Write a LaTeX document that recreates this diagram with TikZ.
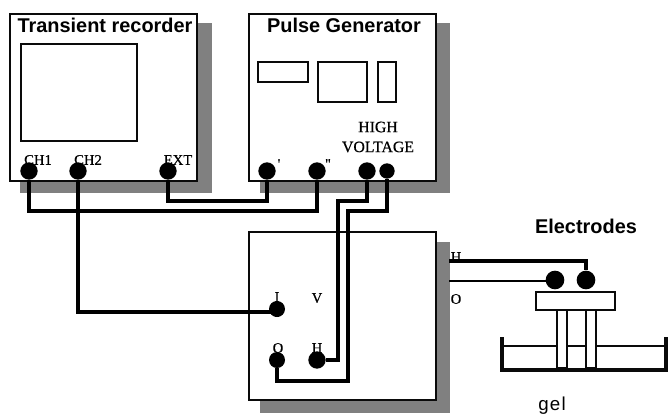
\documentclass[tikz,border=0pt]{standalone}
\usepackage{fontspec}
\setmainfont{Liberation Serif}
\newfontfamily\headfont{Liberation Sans}
\newfontfamily\tagfont[FakeBold=0.5]{Liberation Serif}
\usetikzlibrary{positioning}
\definecolor{shadowGray}{HTML}{808080}
\definecolor{ink}{HTML}{0A0A0A}
\begin{document}
\begin{tikzpicture}[x=0.03cm,y=-0.03cm,
  panel/.style={draw=ink,fill=white,line width=1.2pt,inner sep=0pt,minimum width=5.61cm,minimum height=5.01cm},
  backing/.style={fill=shadowGray,inner sep=0pt},
  window/.style={draw=ink,fill=white,line width=1pt,inner sep=0pt},
  jack/.style={circle,fill=black,inner sep=0pt,minimum size=0.52cm},
  wire/.style={line width=3.6pt,line join=miter},
  thinwire/.style={line width=2.5pt},
  heading/.style={font=\headfont\bfseries\fontsize{17}{19}\selectfont,inner sep=0pt},
  tag/.style={font=\tagfont\fontsize{12.5}{14}\selectfont,inner sep=0pt},
  hvtag/.style={font=\tagfont\fontsize{13.5}{17}\selectfont,align=center,inner sep=0pt}]
\useasboundingbox (0,0) rectangle (669,414);
% transient recorder
\node[backing,minimum width=5.76cm,minimum height=5.1cm] (recShadow) at (116,108) {};
\node[panel] (recorder) at (103.5,97.5) {};
\node[window,minimum width=3.48cm,minimum height=2.91cm] (screen) at (79,92.5) {};
\node[heading] (recTitle) at (105,25) {Transient recorder};
\node[tag] (ch1Tag) at (38,160) {CH1};
\node[tag] (ch2Tag) at (88,160) {CH2};
\node[tag] (extTag) at (178,160) {EXT};
\node[jack] (ch1) at (29,171) {};
\node[jack] (ch2) at (78,171) {};
\node[jack] (ext) at (168,171) {};
% pulse generator
\node[backing,minimum width=5.7cm,minimum height=5.1cm] (genShadow) at (355,108) {};
\node[panel] (generator) at (342.5,97.5) {};
\node[window,minimum width=1.5cm,minimum height=0.6cm] (genWide) at (283,72) {};
\node[window,minimum width=1.47cm,minimum height=1.2cm] (genSquare) at (342.5,82) {};
\node[window,minimum width=0.54cm,minimum height=1.2cm] (genTall) at (387,82) {};
\node[heading] (genTitle) at (344,25) {Pulse Generator};
\node[hvtag] (hvTag) at (378,137) {HIGH\\VOLTAGE};
\node[tag] (out1Tag) at (279,164) {'};
\node[tag] (out2Tag) at (328,164) {''};
\node[jack] (out1) at (267,171) {};
\node[jack] (out2) at (317,171) {};
\node[jack] (hv1) at (367,171) {};
\node[jack,minimum size=0.46cm] (hv2) at (387,171) {};
% meter
\node[backing,minimum width=5.7cm,minimum height=5.13cm] (metShadow) at (355,327.5) {};
\node[panel,minimum height=5.04cm] (meter) at (342.5,316) {};
\node[tag] (iTag) at (277,297) {I};
\node[tag] (vTag) at (317,298) {V};
\node[tag] (oTag) at (278,348) {O};
\node[tag] (hTag) at (317,348) {H};
\node[jack,minimum size=0.48cm] (metI) at (277,309) {};
\node[jack,minimum size=0.48cm] (metO) at (277,360) {};
\node[jack,minimum size=0.52cm] (metH) at (317,360) {};
% electrodes
\node[heading] (elecTitle) at (586,226) {Electrodes};
\node[tag] (hOut) at (456,257) {H};
\node[tag] (oOut) at (456,299) {O};
\coordinate (hEnd) at (449,261);
\coordinate (oEnd) at (449,281);
\node[jack,minimum size=0.56cm] (elec1) at (555,280) {};
\node[jack,minimum size=0.56cm] (elec2) at (586,280) {};
\draw[line width=1pt,draw=ink] (504,346) -- (664,346);
\draw[wire,draw=ink,line width=4.2pt] (502,337) -- (502,370) -- (666,370) -- (666,337);
\node[window,minimum width=0.3cm,minimum height=1.74cm] (rod1) at (562,339) {};
\node[window,minimum width=0.3cm,minimum height=1.74cm] (rod2) at (591,339) {};
\node[window,minimum width=2.37cm,minimum height=0.54cm] (holder) at (575.5,301) {};
\node[font=\headfont\fontsize{16}{18}\selectfont,inner sep=0pt] (gelTag) at (552,406) {g\kern1pt e\kern1pt l};
% wires
\draw[wire] (ch1) -- (ch1 |- 0,211) -- (out2 |- 0,211) -- (out2);
\draw[wire] (ch2) -- (ch2 |- 0,312) -- (metI |- 0,312) -- (metI);
\draw[wire] (ext) -- (ext |- 0,201) -- (out1 |- 0,201) -- (out1);
\draw[wire] (hv1) -- (hv1 |- 0,201) -- (338,201) -- (338,360) -- (metH);
\draw[wire] (hv2) -- (hv2 |- 0,211) -- (348,211) -- (348,381) -- (metO |- 0,381) -- (metO);
\draw[wire] (hEnd) -- (elec2 |- hEnd) -- (elec2);
\draw[thinwire] (oEnd) -- (elec1 |- oEnd);
\end{tikzpicture}
\end{document}
